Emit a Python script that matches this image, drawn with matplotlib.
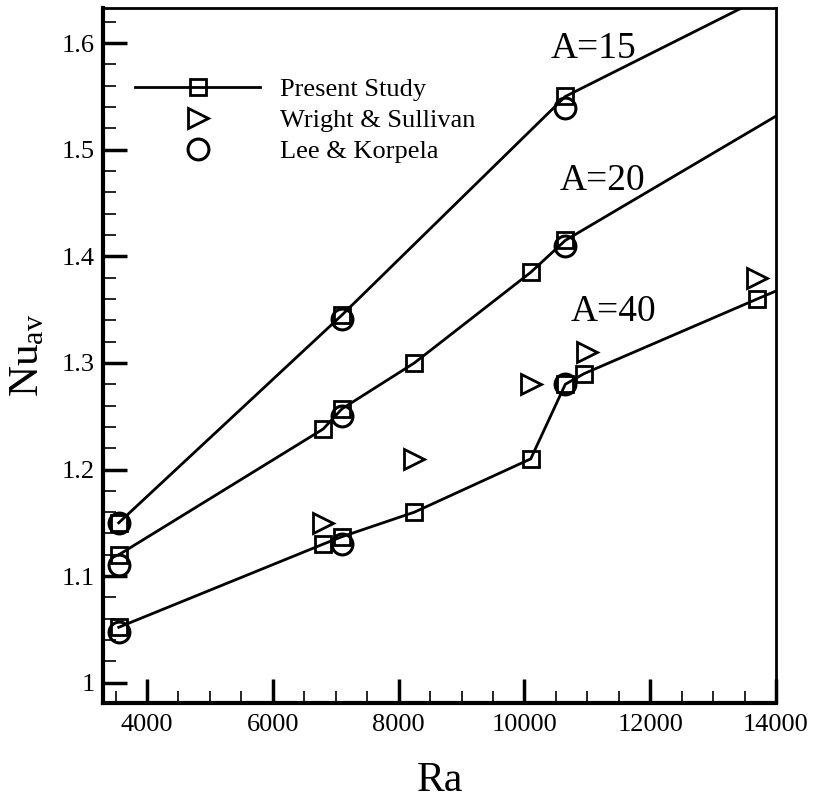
import numpy as np
import matplotlib
matplotlib.use("Agg")
import matplotlib.pyplot as plt
from matplotlib.ticker import MultipleLocator, FuncFormatter

plt.rcParams['font.family'] = ['Liberation Serif', 'DejaVu Serif']
plt.rcParams['mathtext.default'] = 'regular'

# Present study, one curve per aspect ratio (last point lies past the axis edge)
ra_a15 = [3550, 7100, 10650, 14500]
nu_a15 = [1.15, 1.345, 1.55, 1.664]
ra_a20 = [3550, 6800, 7100, 8250, 10100, 10650, 14500]
nu_a20 = [1.12, 1.238, 1.257, 1.30, 1.385, 1.415, 1.549]
ra_a40 = [3550, 6800, 7100, 8250, 10100, 10650, 10950, 13700, 14500]
nu_a40 = [1.052, 1.13, 1.137, 1.16, 1.21, 1.28, 1.29, 1.36, 1.38]

# Wright & Sullivan
ws_ra = [6800, 8250, 10100, 11000, 13700]
ws_nu = [1.15, 1.21, 1.28, 1.31, 1.38]

# Lee & Korpela
lk_ra = [3550, 3550, 3550, 7100, 7100, 7100, 10650, 10650, 10650]
lk_nu = [1.15, 1.11, 1.048, 1.341, 1.25, 1.13, 1.539, 1.41, 1.28]

curve_labels = ['A=15', 'A=20', 'A=40']
label_ra = [11100, 11240, 11410]
label_nu = [1.595, 1.471, 1.348]


def main():
    fig = plt.figure(figsize=(8.15, 7.99), dpi=100)
    ax = fig.add_axes([0.1264, 0.1202, 0.8258, 0.8698])

    style = dict(color='black', lw=2.0, marker='s', ms=11, mfc='none',
                 mec='black', mew=2.0)
    ax.plot(ra_a15, nu_a15, label='Present Study', **style)
    ax.plot(ra_a20, nu_a20, **style)
    ax.plot(ra_a40, nu_a40, **style)
    ax.plot(ws_ra, ws_nu, ls='none', marker='>', ms=14, mfc='none',
            mec='black', mew=2.0, label='Wright & Sullivan')
    ax.plot(lk_ra, lk_nu, ls='none', marker='o', ms=15, mfc='none',
            mec='black', mew=2.2, label='Lee & Korpela')

    for txt, x, y in zip(curve_labels, label_ra, label_nu):
        ax.text(x, y, txt, fontsize=27, ha='center', va='center')

    ax.set_xlim(3300, 14000)
    ax.set_ylim(0.981, 1.633)
    ax.xaxis.set_major_locator(MultipleLocator(2000))
    ax.xaxis.set_minor_locator(MultipleLocator(500))
    ax.yaxis.set_major_locator(MultipleLocator(0.1))
    ax.yaxis.set_minor_locator(MultipleLocator(0.02))
    ax.yaxis.set_major_formatter(FuncFormatter(lambda v, p: '%g' % round(v, 2)))

    ax.tick_params(which='major', direction='in', length=17, width=2.5,
                   labelsize=19, top=False, right=False)
    ax.tick_params(which='minor', direction='in', length=9, width=1.2,
                   top=False, right=False)
    ax.tick_params(axis='y', pad=6)
    ax.tick_params(axis='x', pad=8)

    for side in ['left', 'bottom']:
        ax.spines[side].set_linewidth(3)
    for side in ['top', 'right']:
        ax.spines[side].set_linewidth(2)

    ax.set_xlabel('Ra', fontsize=30, labelpad=18)
    ax.set_ylabel('Nu$_{av}$', fontsize=31, labelpad=10)

    ax.legend(loc='center left', bbox_to_anchor=(0.048, 0.838), frameon=False,
              fontsize=19, handlelength=4.74, handletextpad=0.76,
              labelspacing=0.29, borderpad=0, borderaxespad=0)

    fig.savefig('out.png', dpi=100)


if __name__ == '__main__':
    main()
